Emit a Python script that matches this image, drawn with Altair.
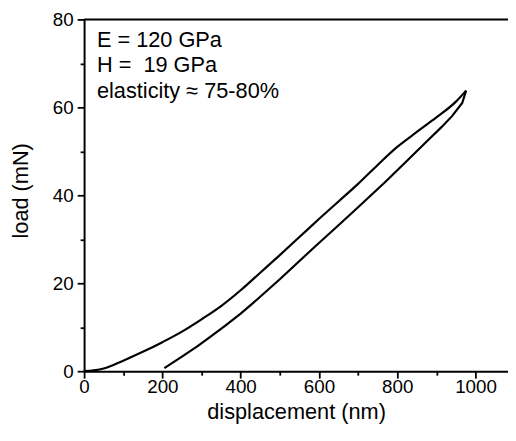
import altair as alt
import pandas as pd

# loading curve (displacement nm, load mN)
load_x = [0, 25, 50, 100, 150, 200, 250, 300, 350, 400, 450, 500, 550, 600, 650, 700, 750, 800, 850, 900, 950, 976]
load_y = [0, 0.2, 0.6, 2.4, 4.4, 6.6, 9.0, 11.8, 14.8, 18.4, 22.4, 26.4, 30.5, 34.6, 38.6, 42.6, 46.9, 51.0, 54.4, 57.7, 61.3, 63.8]
# unloading curve
unload_x = [976, 966, 940, 913, 870, 829, 770, 700, 650, 593, 500, 442, 400, 360, 324, 290, 250, 205]
unload_y = [63.8, 61.0, 58.0, 55.5, 51.8, 48.2, 43.1, 37.3, 33.2, 28.6, 20.9, 16.3, 13.1, 10.3, 7.9, 5.7, 3.3, 0.7]

texts = ["E = 120 GPa", "H =  19 GPa", "elasticity \u2248 75-80%"]
x_ticks = list(range(0, 1001, 100))
y_ticks = list(range(0, 81, 10))

W, H = 429, 356
FONT = "Liberation Sans"

load_df = pd.DataFrame({"d": load_x, "L": load_y, "o": list(range(len(load_x)))})
unload_df = pd.DataFrame({"d": unload_x, "L": unload_y, "o": list(range(len(unload_x)))})

xscale = alt.Scale(domain=[0, 1083], nice=False, zero=False)
yscale = alt.Scale(domain=[0, 80], nice=False)

xaxis = alt.Axis(
    values=x_ticks, title="displacement (nm)", grid=False, format="d",
    labelExpr="datum.value % 200 === 0 ? datum.label : ''",
    tickSize={"condition": {"test": "datum.value % 200 === 0", "value": 7}, "value": 4},
    domainColor="black", domainWidth=2, tickColor="black", tickWidth=1.8,
    labelFont=FONT, labelFontSize=19, labelColor="black", labelPadding=0,
    titleFont=FONT, titleFontSize=22, titleFontWeight="normal", titleColor="black",
    titlePadding=5, labelFlush=False, labelOverlap=False,
)
yaxis = alt.Axis(
    values=y_ticks, title="load (mN)", grid=False, format="d",
    labelExpr="datum.value % 20 === 0 ? datum.label : ''",
    tickSize={"condition": {"test": "datum.value % 20 === 0", "value": 7}, "value": 4},
    domainColor="black", domainWidth=2, tickColor="black", tickWidth=1.8,
    labelFont=FONT, labelFontSize=19, labelColor="black", labelPadding=4,
    titleFont=FONT, titleFontSize=22, titleFontWeight="normal", titleColor="black",
    titlePadding=20, titleY=173, labelFlush=False, labelOverlap=False,
)

load_line = alt.Chart(load_df).mark_line(color="black", strokeWidth=2.2, interpolate="monotone").encode(
    x=alt.X("d:Q", scale=xscale, axis=xaxis),
    y=alt.Y("L:Q", scale=yscale, axis=yaxis),
    order="o:Q",
)
unload_line = alt.Chart(unload_df).mark_line(color="black", strokeWidth=2.2, strokeJoin="miter").encode(
    x=alt.X("d:Q", scale=xscale),
    y=alt.Y("L:Q", scale=yscale),
    order="o:Q",
)

top = alt.Chart(pd.DataFrame({"v": [80]})).mark_rule(color="black", strokeWidth=2).encode(
    y=alt.Y("v:Q", scale=yscale),
    x=alt.value(0), x2=alt.value(W),
)

layers = [load_line, unload_line, top]
for i, t in enumerate(texts):
    shown = t.replace("  ", " \u00a0")
    layers.append(
        alt.Chart(pd.DataFrame({"t": [shown]})).mark_text(
            align="left", baseline="alphabetic", font=FONT, fontSize=22, color="black"
        ).encode(text="t:N", x=alt.value(13), y=alt.value(28 + 25.7 * i))
    )

chart = alt.layer(*layers).properties(
    width=W, height=H,
    autosize=alt.AutoSizeParams(type="none"),
    padding={"left": 77, "top": 9, "right": 0, "bottom": 60},
).configure_view(stroke=None).configure(background="white")

chart.save("out.html", embed_options={"renderer": "svg", "actions": False})
